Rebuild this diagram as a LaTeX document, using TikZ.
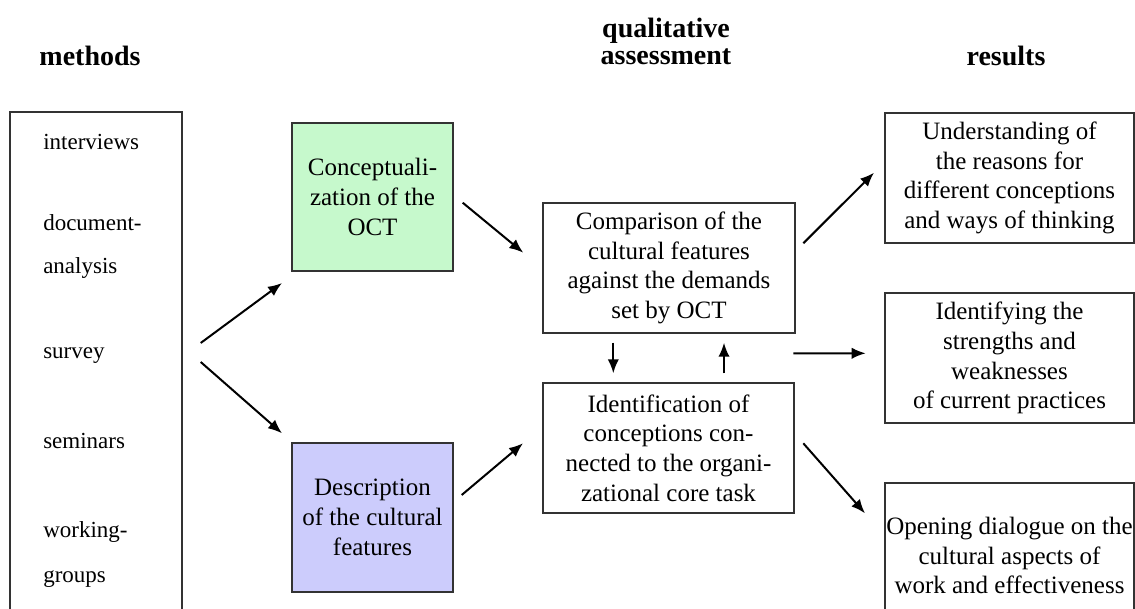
\documentclass[tikz,border=0pt]{standalone}
\usepackage{fontspec}
\setmainfont{Liberation Serif}
\usetikzlibrary{calc,arrows.meta}
\definecolor{mint}{RGB}{198,249,204}
\definecolor{lavender}{RGB}{204,204,252}
\tikzset{
  box/.style={draw=black!80, line width=0.8pt, inner sep=0pt, outer sep=0pt, align=center,
    font=\fontsize{18.75}{22.3}\selectfont},
  head/.style={font=\fontsize{21}{20.25}\selectfont\bfseries, align=center, inner sep=0pt},
  item/.style={font=\fontsize{17.25}{20}\selectfont, anchor=base west, inner sep=0pt},
  arr/.style={line width=1.5pt, -{Latex[length=10.5pt,width=8.5pt]}},
}
\begin{document}
\begin{tikzpicture}[x=0.75pt,y=-0.75pt]
\useasboundingbox (0,0) rectangle (1135,609);
\clip (0,0) rectangle (1135,609);

% column headings
\node[head] (hmeth) at (90,56) {methods};
\node[head] (hqual) at (666,41) {qualitative\\assessment};
\node[head] (hres)  at (1006,56) {results};

% methods column
\node[box, minimum width={172*0.75pt}, minimum height={513*0.75pt}] (meth) at (96,368.5) {};
\node[item] (m1) at (43,150) {interviews};
\node[item] (m2) at (43,231) {document-};
\node[item] (m3) at (43,274) {analysis};
\node[item] (m4) at (43,359) {survey};
\node[item] (m5) at (43,449) {seminars};
\node[item] (m6) at (43,537) {working-};
\node[item] (m7) at (43,582) {groups};

% first stage
\node[box, fill=mint, minimum width={161*0.75pt}, minimum height={148*0.75pt}] (green) at (372.5,197)
  {Conceptuali-\\zation of the\\OCT};
\node[box, fill=lavender, minimum width={161*0.75pt}, minimum height={149*0.75pt}] (blue) at (372.5,517.5)
  {Description\\of the cultural\\features};

% qualitative assessment
\node[box, minimum width={252*0.75pt}, minimum height={130*0.75pt}] (comp) at (669,268)
  {Comparison of the\\cultural features\\against the demands\\set by OCT};
\node[box, minimum width={251*0.75pt}, minimum height={130*0.75pt}] (ident) at (668.5,448)
  {Identification of\\conceptions con-\\nected to the organi-\\zational core task};

% results
\node[box, minimum width={249*0.75pt}, minimum height={130*0.75pt}] (r1) at (1009.5,178)
  {Understanding of\\the reasons for\\different conceptions\\and ways of thinking};
\node[box, minimum width={249*0.75pt}, minimum height={130*0.75pt}] (r2) at (1009.5,358)
  {Identifying the\\strengths and\\weaknesses\\of current practices};
\node[box, minimum width={249*0.75pt}, minimum height={145*0.75pt}] (r3) at (1009.5,555.5)
  {Opening dialogue on the\\cultural aspects of\\work and effectiveness};

% connectors
\draw[arr] ($(meth.east)+(18.7,-25.5)$) -- ($(green.south west)+(-10,12)$);
\draw[arr] ($(meth.east)+(18.7,-6.5)$) -- ($(blue.north west)+(-10,-9.7)$);
\draw[arr] ($(green.east)+(9.7,5.7)$) -- ($(comp.west)+(-19.7,-15.3)$);
\draw[arr] ($(blue.east)+(8.7,-22.5)$) -- ($(ident.west)+(-20,-4.7)$);
\draw[arr] ($(comp.south)+(-55.7,9.7)$) -- ($(ident.north)+(-55.2,-9.7)$);
\draw[arr] ($(ident.north)+(55.5,-9.7)$) -- ($(comp.south)+(55,9.7)$);
\draw[arr] ($(comp.east)+(8.3,-24.7)$) -- ($(r1.west)+(-11,-5.3)$);
\draw[arr] ($(comp.south east)+(-1.7,20.3)$) -- ($(r2.west)+(-19.3,-4.7)$);
\draw[arr] ($(ident.east)+(9.3,-4.7)$) -- ($(r3.north west)+(-20,30.3)$);
\end{tikzpicture}
\end{document}
